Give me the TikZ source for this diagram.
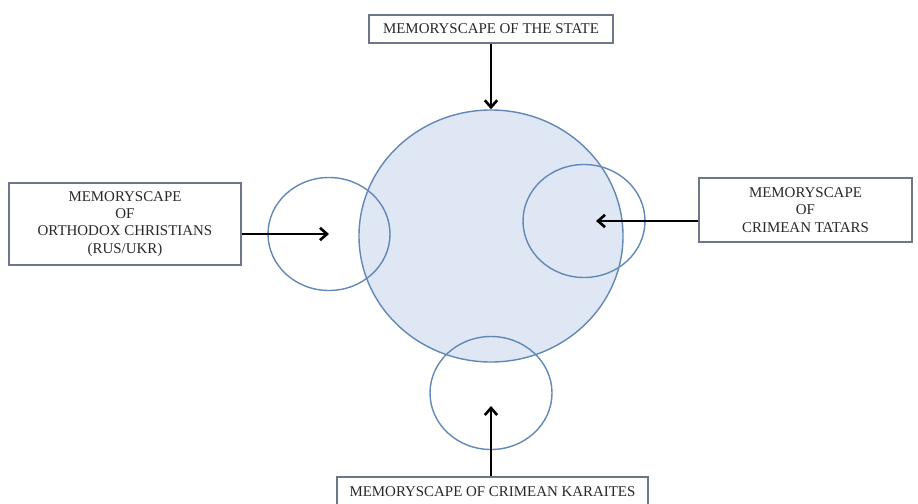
\documentclass[tikz,border=0pt]{standalone}
\usepackage{fontspec}
\setmainfont{Liberation Serif}
\usepackage{tikz}
\usetikzlibrary{shapes.geometric}
\usetikzlibrary{arrows.meta}
\usetikzlibrary{shadows}

\definecolor{scapeblue}{RGB}{98,136,184}
\definecolor{scapefill}{RGB}{222,231,243}
\definecolor{boxline}{RGB}{110,118,135}
\definecolor{boxtext}{RGB}{40,40,40}

\tikzset{
 scapebox/.style = {draw=boxline, fill=white, line width=0.7pt, text=boxtext,
   align=center, inner sep=0pt, font=\fontsize{8.5}{9.8}\selectfont,
   drop shadow={opacity=0.18, shadow xshift=0.8pt, shadow yshift=-0.8pt}},
 scapering/.style = {ellipse, draw=scapeblue, line width=0.8pt, inner sep=0pt,
   minimum width=2.44cm, minimum height=2.26cm},
 scapearrow/.style = {-{Straight Barb[length=4pt,width=7pt]}, line width=1.5pt, black}
}

\begin{document}
\begin{tikzpicture}

 \useasboundingbox (0,0) rectangle (18.36,10.06);

 % Memoryscape of the state, the large shared circle
 \node [ellipse, draw=scapeblue, fill=scapefill, line width=0.8pt, inner sep=0pt,
   minimum width=5.28cm, minimum height=5.04cm] (state) at (9.82,5.34) {};

 % Smaller circles of the communities
 \node [scapering] (ortho) at (6.58,5.38) {};
 \node [scapering] (tatar) at (11.68,5.64) {};
 \node [scapering] (karai) at (9.82,2.20) {};

 % Box on top
 \node [scapebox, minimum width=4.88cm, minimum height=0.56cm] (stateBox) at (9.82,9.48)
   {MEMORYSCAPE OF THE STATE};
 \draw [scapearrow] (stateBox.south) -- (state.north);

 % Box on the left
 \node [scapebox, minimum width=4.64cm, minimum height=1.64cm] (orthoBox) at (2.50,5.58)
   {MEMORYSCAPE\\OF\\ORTHODOX CHRISTIANS\\(RUS/UKR)};
 \draw [scapearrow] (orthoBox.east |- ortho.center) -- (ortho.center);

 % Box on the right
 \node [scapebox, minimum width=4.26cm, minimum height=1.28cm] (tatarBox) at (16.11,5.86)
   {MEMORYSCAPE\\OF\\CRIMEAN TATARS};
 \draw [scapearrow, shorten >=0.24cm] (tatarBox.west |- tatar.center) -- (tatar.center);

 % Box at the bottom (cut by the page edge)
 \node [scapebox, minimum width=6.22cm, minimum height=0.60cm] (karaiBox) at (9.85,0.22)
   {MEMORYSCAPE OF CRIMEAN KARAITES};
 \draw [scapearrow, shorten >=0.26cm] (karaiBox.north -| karai.center) -- (karai.center);

\end{tikzpicture}
\end{document}
